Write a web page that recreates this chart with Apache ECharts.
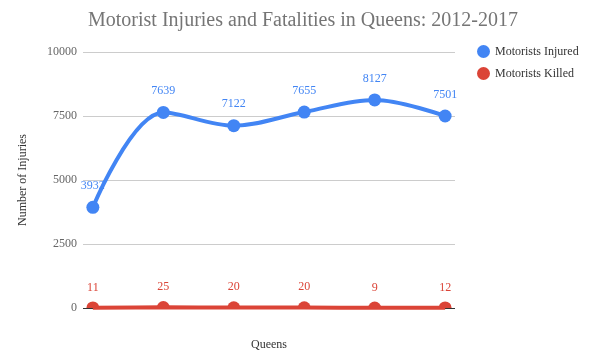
<!DOCTYPE html>
<html><head><meta charset="utf-8">
<script src="https://cdn.jsdelivr.net/npm/echarts@6/dist/echarts.min.js"></script>
<style>html,body{margin:0;padding:0;background:#fff}#c{width:597px;height:358px}</style>
</head><body><div id="c"></div>
<script>
var categories = ["2012", "2013", "2014", "2015", "2016", "2017"];
var injured = [3932, 7639, 7122, 7655, 8127, 7501];
var killed = [11, 25, 20, 20, 9, 12];
var yTicks = [0, 2500, 5000, 7500, 10000];

var FONT = '"Liberation Serif", "Times New Roman", serif';
function pairs(arr){ return arr.map(function(v,i){ return [i, v]; }); }

var chart = echarts.init(document.getElementById('c'));
chart.setOption({
  backgroundColor: '#fff',
  animation: false,
  textStyle: { fontFamily: FONT },
  title: {
    text: 'Motorist Injuries and Fatalities in Queens: 2012-2017',
    left: 298, top: 6, textAlign: 'center',
    textStyle: { fontFamily: FONT, fontSize: 20, fontWeight: 'normal', color: '#757575' }
  },
  legend: {
    orient: 'vertical', left: 472, top: 40, itemGap: 9,
    icon: 'circle', itemWidth: 13, itemHeight: 13,
    textStyle: { fontFamily: FONT, fontSize: 12, color: '#333' },
    data: ['Motorists Injured', 'Motorists Killed']
  },
  grid: { left: 83, right: 142, top: 52, bottom: 50 },
  xAxis: {
    type: 'value', min: -0.14, max: 5.14,
    name: 'Queens', nameLocation: 'middle', nameGap: 31,
    nameTextStyle: { fontFamily: FONT, fontSize: 12, color: '#333' },
    axisLine: { show: false }, axisTick: { show: false },
    axisLabel: { show: false }, splitLine: { show: false }
  },
  yAxis: {
    type: 'value', min: yTicks[0], max: yTicks[yTicks.length-1], interval: 2500,
    name: 'Number of Injuries', nameLocation: 'middle', nameGap: 54,
    nameTextStyle: { fontFamily: FONT, fontSize: 12, color: '#333' },
    axisLine: { show: false }, axisTick: { show: false },
    axisLabel: { fontFamily: FONT, fontSize: 12, color: '#666', margin: 6,
      formatter: function(v){ return String(v); } },
    splitLine: { lineStyle: { color: '#cccccc', width: 1 } }
  },
  series: [
    {
      name: 'Motorists Injured', type: 'line', smooth: 0.35,
      data: pairs(injured),
      color: '#4285f4',
      lineStyle: { width: 4, color: '#4285f4' },
      symbol: 'circle', symbolSize: 13,
      itemStyle: { color: '#4285f4' },
      label: { show: true, position: 'top', distance: 9,
        formatter: function(p){ return p.value[1]; },
        fontFamily: FONT, fontSize: 12, color: '#4285f4' },
      z: 3
    },
    {
      name: 'Motorists Killed', type: 'line', smooth: 0.35,
      data: pairs(killed),
      color: '#db4437',
      lineStyle: { width: 4, color: '#db4437' },
      symbol: 'path://M0,10 A10,10 0 0,1 20,10 Z', symbolSize: [13, 6.5],
      symbolOffset: [0, -3],
      itemStyle: { color: '#db4437' },
      label: { show: true, position: 'top', distance: 8,
        formatter: function(p){ return p.value[1]; },
        fontFamily: FONT, fontSize: 12, color: '#db4437' },
      markLine: {
        silent: true, symbol: 'none', label: { show: false },
        lineStyle: { color: '#333', width: 1, type: 'solid' },
        data: [{ yAxis: 0 }], z: 1
      },
      z: 4
    }
  ]
});
</script></body></html>
